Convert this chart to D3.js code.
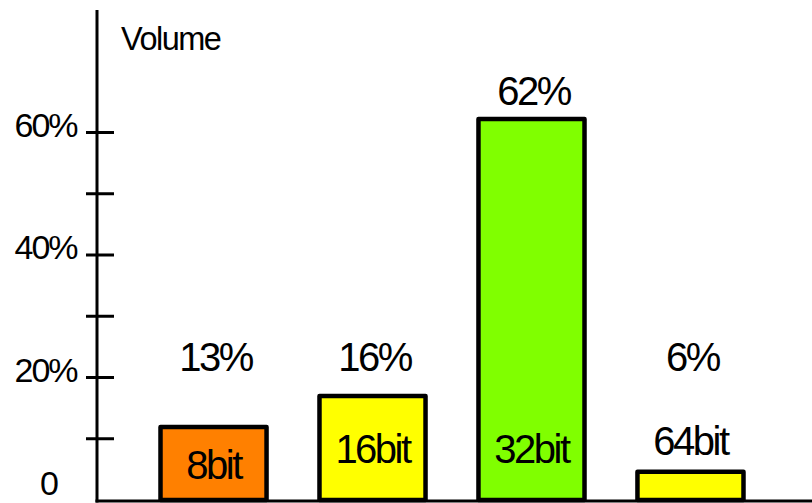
<!DOCTYPE html>
<html><head><meta charset="utf-8">
<script src="https://cdn.jsdelivr.net/npm/d3@7"></script>
<style>
html,body{margin:0;padding:0;background:#fff;}
svg{display:block;font-family:"Liberation Sans",Arial,sans-serif;}
</style></head>
<body>
<svg id="c" width="812" height="503"></svg>
<script>
const categories = ["8bit", "16bit", "32bit", "64bit"];
const barValues = [11.9, 17.0, 62.2, 4.6];
const valueLabels = ["13%", "16%", "62%", "6%"];
const barColors = ["#FF8000", "#FFFF00", "#80FF00", "#FFFF00"];
const tickValues = [10, 20, 30, 40, 50, 60];
const tickLabelValues = [0, 20, 40, 60];
const tickLabels = ["0", "20%", "40%", "60%"];
const axisTitle = "Volume";

const svg = d3.select("#c");
const y = d3.scaleLinear().domain([0, 80]).range([500, 10]);
const x = d3.scaleBand().domain(categories).range([134, 770]).paddingInner(0.333).paddingOuter(0.1667);

// bars
svg.selectAll("rect.bar").data(categories).enter().append("rect")
  .attr("class", "bar")
  .attr("x", d => x(d))
  .attr("width", x.bandwidth())
  .attr("y", (d, i) => y(barValues[i]))
  .attr("height", (d, i) => y(0) - y(barValues[i]))
  .attr("fill", (d, i) => barColors[i])
  .attr("stroke", "#000").attr("stroke-width", 4.5).attr("stroke-linejoin", "round");

// y axis line
svg.append("line").attr("x1", 97).attr("x2", 97).attr("y1", y(80)).attr("y2", y(0) + 2.5)
  .attr("stroke", "#000").attr("stroke-width", 3);
// x axis line
svg.append("line").attr("x1", 95.5).attr("x2", 812).attr("y1", y(0) + 1).attr("y2", y(0) + 1)
  .attr("stroke", "#000").attr("stroke-width", 3);

// ticks
svg.selectAll("line.tick").data(tickValues).enter().append("line")
  .attr("class", "tick")
  .attr("x1", 86).attr("x2", 114)
  .attr("y1", d => y(d)).attr("y2", d => y(d))
  .attr("stroke", "#000").attr("stroke-width", 3);

// tick labels
svg.selectAll("text.tl").data(tickLabelValues).enter().append("text")
  .attr("class", "tl")
  .attr("x", (d, i) => d === 0 ? 48.5 : 45.5)
  .attr("y", d => Math.min(y(d) + 4, 495))
  .attr("text-anchor", "middle")
  .attr("font-size", 34).attr("letter-spacing", -2)
  .text((d, i) => tickLabels[i]);

// axis title
svg.append("text").attr("x", 121).attr("y", 50)
  .attr("font-size", 32.5).attr("letter-spacing", -1.5)
  .text(axisTitle);

// value labels
svg.selectAll("text.vl").data(categories).enter().append("text")
  .attr("class", "vl")
  .attr("x", d => x(d) + x.bandwidth() / 2 + 2)
  .attr("y", (d, i) => Math.min(y(barValues[i]) - 14, y(21)))
  .attr("text-anchor", "middle")
  .attr("font-size", 40).attr("letter-spacing", -2.5)
  .text((d, i) => valueLabels[i]);

// category labels
svg.selectAll("text.cl").data(categories).enter().append("text")
  .attr("class", "cl")
  .attr("x", d => x(d) + x.bandwidth() / 2)
  .attr("y", (d, i) => barValues[i] < 8 ? y(barValues[i]) - 17 : y(Math.min(barValues[i], 17) / 2) + 15)
  .attr("text-anchor", "middle")
  .attr("font-size", 40).attr("letter-spacing", -2.5)
  .text(d => d);
</script>
</body></html>
